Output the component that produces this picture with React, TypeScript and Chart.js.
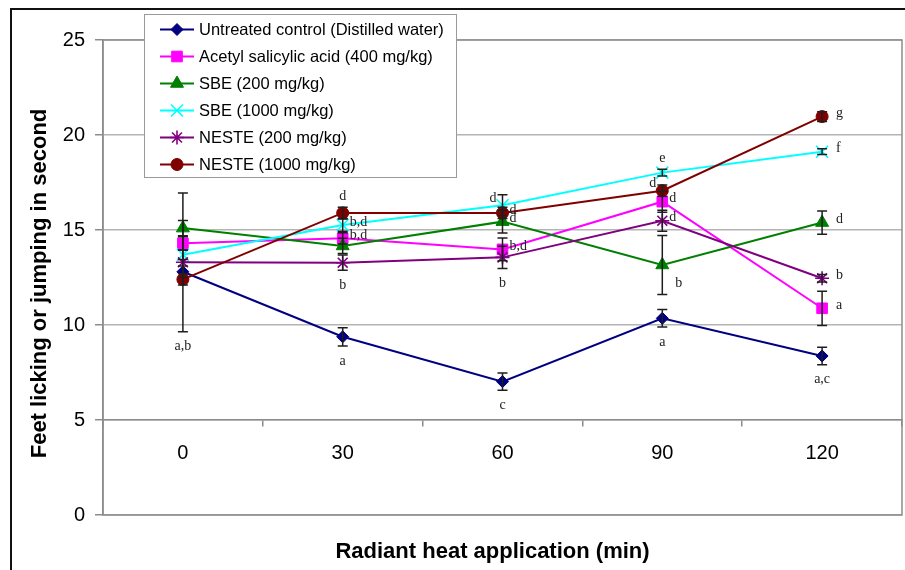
import React, { useEffect, useRef } from 'react';
import { Chart, registerables } from 'chart.js';
import { drawPoint } from 'chart.js/helpers';

Chart.register(...registerables);

// ---------- data ----------
const categories = ['0', '30', '60', '90', '120'];
const yMin = 0;
const yMax = 25;
const yStep = 5;
const xAxisCrossing = 5;

const seriesNames = [
  'Untreated control (Distilled water)',
  'Acetyl salicylic acid (400 mg/kg)',
  'SBE (200 mg/kg)',
  'SBE (1000 mg/kg)',
  'NESTE (200 mg/kg)',
  'NESTE (1000 mg/kg)',
];

const untreated = [12.8, 9.38, 7.02, 10.35, 8.37];
const aspirin = [14.3, 14.56, 13.98, 16.49, 10.88];
const sbe200 = [15.1, 14.16, 15.44, 13.16, 15.39];
const sbe1000 = [13.7, 15.26, 16.3, 18.02, 19.12];
const neste200 = [13.3, 13.28, 13.56, 15.49, 12.46];
const neste1000 = [12.4, 15.9, 15.9, 17.07, 20.97];

const untreatedErr = [0.3, 0.48, 0.45, 0.46, 0.46];
const aspirinErr = [0.35, 0.3, 0.6, 0.55, 0.9];
const sbe200Err = [0.4, 0.4, 0.6, 1.55, 0.61];
const sbe1000Err = [0.25, 0.32, 0.55, 0.18, 0.15];
const neste200Err = [3.65, 0.4, 0.58, 0.55, 0.2];
const neste1000Err = [0.3, 0.3, 0.3, 0.3, 0.26];

const untreatedSig = ['', 'a', 'c', 'a', 'a,c'];
const aspirinSig = ['', 'b,d', 'b,d', 'd', 'a'];
const sbe200Sig = ['', '', 'd', 'b', 'd'];
const sbe1000Sig = ['', 'b,d', 'd', 'e', 'f'];
const neste200Sig = ['a,b', 'b', 'b', 'd', 'b'];
const neste1000Sig = ['', 'd', 'd', 'd', 'g'];

const yTitle = 'Feet licking or jumping in second';
const xTitle = 'Radiant heat application (min)';

// ---------- styles ----------
const SANS = '"Liberation Sans", Arial, sans-serif';
const SERIF = '"Liberation Serif", "Times New Roman", serif';

const untreatedPlace = ['below', 'below', 'below', 'below', 'below'];
const aspirinPlace = ['', 'right', 'right', 'right', 'rightFar'];
const sbe200Place = ['', '', 'right', 'belowRight', 'rightFar'];
const sbe1000Place = ['', 'right', 'left', 'above', 'rightFar'];
const neste200Place = ['below', 'below', 'below', 'right', 'rightFar'];
const neste1000Place = ['', 'above', 'right', 'left', 'rightFar'];

const seriesValues = [untreated, aspirin, sbe200, sbe1000, neste200, neste1000];
const seriesErrors = [untreatedErr, aspirinErr, sbe200Err, sbe1000Err, neste200Err, neste1000Err];
const seriesSig = [untreatedSig, aspirinSig, sbe200Sig, sbe1000Sig, neste200Sig, neste1000Sig];
const seriesPlace = [untreatedPlace, aspirinPlace, sbe200Place, sbe1000Place, neste200Place, neste1000Place];
const seriesColors = ['#000080', '#FF00FF', '#008000', '#00FFFF', '#800080', '#800000'];
const seriesPoints = ['rectRot', 'rect', 'triangle', 'crossRot', 'star', 'circle'];
const seriesRadius = [6, 7.5, 7.5, 8.5, 7, 6];
const seriesPointBorder = [1, 1, 1, 1.6, 1.6, 1];

const framePlugin = {
  id: 'frame',
  beforeDraw(chart: any) {
    const { ctx } = chart;
    ctx.save();
    ctx.fillStyle = '#ffffff';
    ctx.fillRect(0, 0, chart.width, chart.height);
    ctx.strokeStyle = '#111';
    ctx.lineWidth = 2;
    ctx.strokeRect(11, 9, 2000, 2000);
    ctx.restore();
  },
  beforeDatasetsDraw(chart: any) {
    const { ctx, chartArea } = chart;
    ctx.save();
    ctx.strokeStyle = '#8c8c8c';
    ctx.lineWidth = 1.5;
    ctx.strokeRect(chartArea.left, chartArea.top, chartArea.right - chartArea.left, chartArea.bottom - chartArea.top);
    ctx.restore();
  },
};

const errorBarPlugin = {
  id: 'errorBars',
  afterDatasetsDraw(chart: any) {
    const { ctx } = chart;
    const ys = chart.scales.y;
    ctx.save();
    ctx.strokeStyle = '#1e1e1e';
    ctx.lineWidth = 1.5;
    chart.data.datasets.forEach((ds: any, i: number) => {
      const meta = chart.getDatasetMeta(i);
      meta.data.forEach((pt: any, j: number) => {
        const v = ds.data[j];
        const e = ds.errors[j];
        const yt = ys.getPixelForValue(v + e);
        const yb = ys.getPixelForValue(v - e);
        const x = pt.x;
        ctx.beginPath();
        ctx.moveTo(x, yt);
        ctx.lineTo(x, yb);
        ctx.moveTo(x - 5, yt);
        ctx.lineTo(x + 5, yt);
        ctx.moveTo(x - 5, yb);
        ctx.lineTo(x + 5, yb);
        ctx.stroke();
      });
    });
    ctx.restore();
  },
};

const sigLabelPlugin = {
  id: 'sigLabels',
  afterDatasetsDraw(chart: any) {
    const { ctx } = chart;
    const ys = chart.scales.y;
    ctx.save();
    ctx.fillStyle = '#222';
    ctx.font = `14px ${SERIF}`;
    ctx.textBaseline = 'middle';
    chart.data.datasets.forEach((ds: any, i: number) => {
      const meta = chart.getDatasetMeta(i);
      meta.data.forEach((pt: any, j: number) => {
        const text = ds.sig[j];
        if (!text) return;
        const v = ds.data[j];
        const e = ds.errors[j];
        const top = ys.getPixelForValue(v + e);
        const bot = ys.getPixelForValue(v - e);
        const place = ds.place[j];
        let x = pt.x;
        let y = pt.y;
        let align: CanvasTextAlign = 'center';
        if (place === 'above') { y = top - 11; }
        else if (place === 'below') { y = bot + 15; }
        else if (place === 'right') { x = pt.x + 7; y = pt.y - 3; align = 'left'; }
        else if (place === 'rightFar') { x = pt.x + 14; y = pt.y - 3; align = 'left'; }
        else if (place === 'left') { x = pt.x - 6; y = pt.y - 7; align = 'right'; }
        else if (place === 'belowRight') { x = pt.x + 13; y = pt.y + 18; align = 'left'; }
        ctx.textAlign = align;
        ctx.fillText(text, x, y);
      });
    });
    ctx.restore();
  },
};

const legendPlugin = {
  id: 'boxLegend',
  afterDraw(chart: any) {
    const { ctx } = chart;
    const box = { x: 144, y: 14, w: 312, h: 163 };
    ctx.save();
    ctx.fillStyle = '#ffffff';
    ctx.fillRect(box.x, box.y, box.w, box.h);
    ctx.strokeStyle = '#9a9a9a';
    ctx.lineWidth = 1;
    ctx.strokeRect(box.x + 0.5, box.y + 0.5, box.w, box.h);
    chart.data.datasets.forEach((ds: any, i: number) => {
      const y = box.y + 15.5 + i * 27;
      ctx.strokeStyle = ds.borderColor;
      ctx.lineWidth = 2;
      ctx.beginPath();
      ctx.moveTo(box.x + 16, y);
      ctx.lineTo(box.x + 50, y);
      ctx.stroke();
      ctx.fillStyle = ds.pointBackgroundColor;
      ctx.strokeStyle = ds.pointBorderColor;
      ctx.lineWidth = ds.pointBorderWidth;
      drawPoint(ctx, { pointStyle: ds.pointStyle, radius: ds.pointRadius, borderWidth: ds.pointBorderWidth, rotation: 0 } as any, box.x + 33, y);
      ctx.fillStyle = '#000';
      ctx.font = `16.5px ${SANS}`;
      ctx.textAlign = 'left';
      ctx.textBaseline = 'middle';
      ctx.fillText(ds.label, box.x + 55, y + 1);
    });
    ctx.restore();
  },
};

const axisTitlePlugin = {
  id: 'axisTitles',
  afterDraw(chart: any) {
    const { ctx, chartArea } = chart;
    ctx.save();
    ctx.fillStyle = '#000';
    ctx.font = `bold 22px ${SANS}`;
    ctx.textAlign = 'center';
    ctx.textBaseline = 'middle';
    ctx.fillText(xTitle, (chartArea.left + chartArea.right) / 2 - 10, chartArea.bottom + 37);
    ctx.translate(chartArea.left - 63, (chartArea.top + chartArea.bottom) / 2 + 6);
    ctx.rotate(-Math.PI / 2);
    ctx.fillText(yTitle, 0, 0);
    ctx.restore();
  },
};

export default function App() {
  const ref = useRef<HTMLCanvasElement>(null);
  useEffect(() => {
    if (!ref.current) return;
    const n = seriesNames.length;
    const chart = new Chart(ref.current, {
      type: 'line',
      data: {
        labels: categories,
        datasets: seriesNames.map((name, i) => ({
          label: name,
          data: seriesValues[i],
          errors: seriesErrors[i],
          sig: seriesSig[i],
          place: seriesPlace[i],
          borderColor: seriesColors[i],
          backgroundColor: seriesColors[i],
          pointBackgroundColor: seriesColors[i],
          pointBorderColor: seriesColors[i],
          pointStyle: seriesPoints[i],
          pointRadius: seriesRadius[i],
          pointBorderWidth: seriesPointBorder[i],
          borderWidth: 2,
          tension: 0,
          fill: false,
          order: n - i,
        })) as any,
      },
      options: {
        animation: false,
        responsive: false,
        layout: { autoPadding: false, padding: { left: 0, right: 3, top: 40, bottom: 55 } },
        plugins: {
          legend: { display: false },
          tooltip: { enabled: false },
          title: { display: false },
        },
        scales: {
          x: {
            type: 'category',
            offset: true,
            position: { y: xAxisCrossing } as any,
            grid: { offset: true, drawOnChartArea: false, drawTicks: true, tickLength: 6, color: '#8c8c8c', lineWidth: 1.5 },
            border: { display: true, color: '#8c8c8c', width: 1.5 },
            ticks: { color: '#000', font: { family: SANS, size: 20 }, padding: 15, maxRotation: 0 },
          },
          y: {
            min: yMin,
            max: yMax,
            afterFit: (scale: any) => { scale.width = 103; },
            ticks: { stepSize: yStep, color: '#000', font: { family: SANS, size: 20 }, padding: 10 },
            grid: { color: '#b4b4b4', lineWidth: 1.5, tickLength: 8, tickColor: '#8c8c8c' },
            border: { display: true, color: '#8c8c8c', width: 1.5 },
            title: { display: false },
          },
        },
      } as any,
      plugins: [framePlugin, errorBarPlugin, sigLabelPlugin, legendPlugin, axisTitlePlugin],
    });
    return () => chart.destroy();
  }, []);
  return (
    <div style={{ position: 'absolute', left: 0, top: 0, width: 905, height: 570, background: '#fff' }}>
      <canvas ref={ref} width={905} height={570} style={{ display: 'block' }} />
    </div>
  );
}
